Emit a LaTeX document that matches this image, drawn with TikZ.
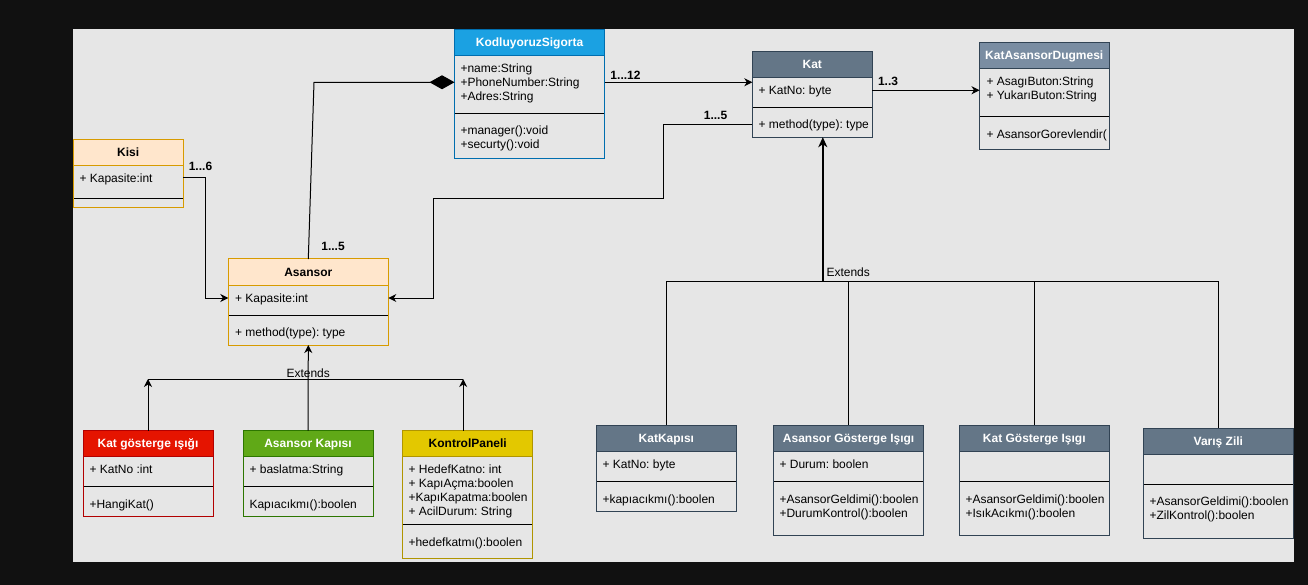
\documentclass[tikz,border=0pt]{standalone}
\usepackage{fontspec}
\setmainfont{Liberation Sans}
\usetikzlibrary{arrows.meta}
\frenchspacing
\definecolor{bgdark}{HTML}{111111}
\definecolor{canvasgray}{HTML}{E6E6E6}
\definecolor{bluline}{HTML}{006EAF}
\definecolor{blufill}{HTML}{1BA1E2}
\colorlet{blutxt}{white}
\definecolor{slaline}{HTML}{314354}
\definecolor{slafill}{HTML}{647687}
\colorlet{slatxt}{white}
\definecolor{sltline}{HTML}{314354}
\definecolor{sltfill}{HTML}{7A8DA2}
\colorlet{slttxt}{white}
\definecolor{oraline}{HTML}{D79B00}
\definecolor{orafill}{HTML}{FFE6CC}
\colorlet{oratxt}{black}
\definecolor{redline}{HTML}{B20000}
\definecolor{redfill}{HTML}{E51400}
\colorlet{redtxt}{white}
\definecolor{grnline}{HTML}{2D7600}
\definecolor{grnfill}{HTML}{60A917}
\colorlet{grntxt}{white}
\definecolor{yelline}{HTML}{B09500}
\definecolor{yelfill}{HTML}{E3C800}
\colorlet{yeltxt}{black}
\tikzset{
  box/.style={rectangle, inner sep=0pt, outer sep=0pt},
  ttl/.style={inner sep=0pt, font=\fontsize{12}{14}\selectfont\bfseries, text height=8.6pt, text depth=0pt},
  txt/.style={inner sep=0pt, anchor=west, font=\fontsize{12}{14}\selectfont, text height=8.6pt, text depth=0pt},
  lbl/.style={inner sep=0pt, font=\fontsize{12}{14}\selectfont\bfseries, text height=8.6pt, text depth=0pt},
  conn/.style={draw=black, line width=1pt},
  arr/.style={conn, -{Stealth[length=8pt,width=8pt,inset=2.5pt]}},
  bigarr/.style={draw=black, line width=2pt, -{Stealth[length=10pt,width=9pt,inset=3pt]}},
  compo/.style={conn, -{Diamond[length=25pt,width=14pt]}},
}
% #1 name #2 x #3 y #4 w #5 h #6 separator offset #7 colour prefix #8 title
\newcommand\umlclass[8]{%
  \node[box, minimum width=#4pt, minimum height=#5pt, anchor=north west] (#1) at (#2,#3) {};
  \fill[#7fill] (#1.north west) rectangle ([yshift=-26pt]#1.north east);
  \draw[#7line] ([yshift=-26pt]#1.north west) -- ([yshift=-26pt]#1.north east);
  \draw[black] ([yshift=-#6pt]#1.north west) -- ([yshift=-#6pt]#1.north east);
  \draw[#7line] (#1.north west) rectangle (#1.south east);
  \node[ttl, text=#7txt] (#1-t) at ([yshift=-13pt]#1.north) {#8};
}
\newcommand\umltxt[3]{\node[txt] (#1) at (#2) {#3};}
\begin{document}
\begin{tikzpicture}[x=1pt,y=-1pt,line width=1pt]
\useasboundingbox (0,0) rectangle (1308,585);
\fill[bgdark] (0,0) rectangle (1308,585);
\fill[canvasgray] (73,29) rectangle (1293.5,562);

% KodluyoruzSigorta
\umlclass{ks}{454.5}{29.5}{150}{129.5}{84}{blu}{KodluyoruzSigorta}
\umltxt{ks-a1}{460,68.7}{+name:String}
\umltxt{ks-a2}{460,82.7}{+PhoneNumber:String}
\umltxt{ks-a3}{460,96.7}{+Adres:String}
\umltxt{ks-m1}{460,130}{+manager():void}
\umltxt{ks-m2}{460,144}{+securty():void}

% Kat
\umlclass{kat}{752.3}{51.7}{120}{85.5}{55.6}{sla}{Kat}
\umltxt{kat-a1}{758,90}{+ KatNo: byte}
\umltxt{kat-m1}{758,124.3}{+ method(type): type}

% KatAsansorDugmesi
\umlclass{kad}{979.5}{42.3}{129.5}{107.7}{74.5}{slt}{KatAsansorDugmesi}
\umltxt{kad-a1}{986,81.7}{+ AsagıButon:String}
\umltxt{kad-a2}{986,95.7}{+ YukarıButon:String}
\umltxt{kad-m1}{986,134}{+ AsansorGorevlendir(}

% Kisi
\umlclass{kisi}{73.2}{139.3}{110}{68}{59}{ora}{Kisi}
\umltxt{kisi-a1}{79,178.7}{+ Kapasite:int}

% Asansor
\umlclass{asansor}{228.3}{259}{160}{86}{56.7}{ora}{Asansor}
\umltxt{as-a1}{234.5,298}{+ Kapasite:int}
\umltxt{as-m1}{234.5,332}{+ method(type): type}

% Kat gosterge isigi
\umlclass{kgis}{83}{430.5}{130}{86}{55.5}{red}{Kat gösterge ışığı}
\umltxt{kgis-a1}{89,469}{+ KatNo :int}
\umltxt{kgis-m1}{89,503.7}{+HangiKat()}

% Asansor Kapisi
\umlclass{ak}{243}{430.5}{130}{86}{55.5}{grn}{Asansor Kapısı}
\umltxt{ak-a1}{249,469}{+ baslatma:String}
\umltxt{ak-m1}{249,503.7}{Kapıacıkmı():boolen}

% KontrolPaneli
\umlclass{kp}{402.7}{430.5}{130}{127.5}{94.2}{yel}{KontrolPaneli}
\umltxt{kp-a1}{408,469}{+ HedefKatno: int}
\umltxt{kp-a2}{408,483}{+ KapıAçma:boolen}
\umltxt{kp-a3}{408,497}{+KapıKapatma:boolen}
\umltxt{kp-a4}{408,511}{+ AcilDurum: String}
\umltxt{kp-m1}{408,541.7}{+hedefkatmı():boolen}

% KatKapisi
\umlclass{kk}{596.2}{425}{140.3}{86}{56.3}{sla}{KatKapısı}
\umltxt{kk-a1}{602,464.3}{+ KatNo: byte}
\umltxt{kk-m1}{602,498.7}{+kapıacıkmı():boolen}

% Asansor Gosterge Isigi
\umlclass{agi}{773.6}{425}{150}{110.3}{56.3}{sla}{Asansor Gösterge Işıgı}
\umltxt{agi-a1}{779,464.3}{+ Durum: boolen}
\umltxt{agi-m1}{779,498.7}{+AsansorGeldimi():boolen}
\umltxt{agi-m2}{779,512.7}{+DurumKontrol():boolen}

% Kat Gosterge Isigi
\umlclass{kgi}{959.3}{425}{150}{110.3}{56.3}{sla}{Kat Gösterge Işıgı}
\umltxt{kgi-m1}{965,498.7}{+AsansorGeldimi():boolen}
\umltxt{kgi-m2}{965,512.7}{+IsıkAcıkmı():boolen}

% Varis Zili
\umlclass{vz}{1143.6}{428.3}{149.5}{110}{56}{sla}{Varış Zili}
\umltxt{vz-m1}{1149,501.3}{+AsansorGeldimi():boolen}
\umltxt{vz-m2}{1149,515.3}{+ZilKontrol():boolen}

% ---------- connectors ----------
% composition Asansor -> KodluyoruzSigorta
\coordinate (c1) at (314,82.3);
\coordinate (c2) at ([yshift=12pt]ks.west);
\draw[compo] (asansor.north) -- (c1) -- (c2);
\node[lbl] (l15a) at (333,246.7) {1...5};

% KodluyoruzSigorta -> Kat
\coordinate (p1) at ([yshift=12pt]ks.east);
\draw[arr] (p1) -- (p1 -| kat.west);
\node[lbl] (l112) at (625.5,75) {1...12};

% Kat -> KatAsansorDugmesi
\coordinate (p2) at ([yshift=4.2pt]kat.east);
\draw[arr] (p2) -- (p2 -| kad.west);
\node[lbl] (l13) at (888,81.7) {1..3};

% Kat -> Asansor
\coordinate (p3) at ([yshift=-29.8pt]kat.west);
\coordinate (p4) at ([yshift=4pt]asansor.east);
\coordinate (b1) at (663,199);
\coordinate (b2) at (433,199);
\draw[arr] (p3) -| (b1) -- (b2) |- (p4);
\node[lbl] (l15b) at (715.5,115) {1...5};

% Kisi -> Asansor
\coordinate (p5) at ([yshift=-4pt]kisi.east);
\coordinate (p6) at ([yshift=4pt]asansor.west);
\coordinate (k1) at (205.7,0);
\draw[arr] (p5) -| (k1 |- p6) -- (p6);
\node[lbl] (l16) at (200.5,166) {1...6};

% inheritance to Kat
\coordinate (e2) at (822.8,281.3);
\draw[bigarr] (e2) -- (e2 |- kat.south);
\draw[conn] (kk.north) |- (e2 -| vz.north) -- (vz.north);
\draw[conn] (agi.north) -- (agi.north |- e2);
\draw[conn] (kgi.north) -- (kgi.north |- e2);
\node[txt] (extr) at (826,272.5) {Extends};

% inheritance to Asansor
\coordinate (e1) at (308,379);
\coordinate (kpt) at ([xshift=-4.5pt]kp.north);
\draw[arr] (kgis.north) -- (kgis.north |- e1);
\draw[arr] (kpt) -- (kpt |- e1);
\draw[conn] (kgis.north |- e1) -- (kpt |- e1);
\draw[arr] (ak.north) -- (asansor.south);
\node[txt, anchor=center] (extl) at (308.2,373.3) {Extends};
\end{tikzpicture}
\end{document}
